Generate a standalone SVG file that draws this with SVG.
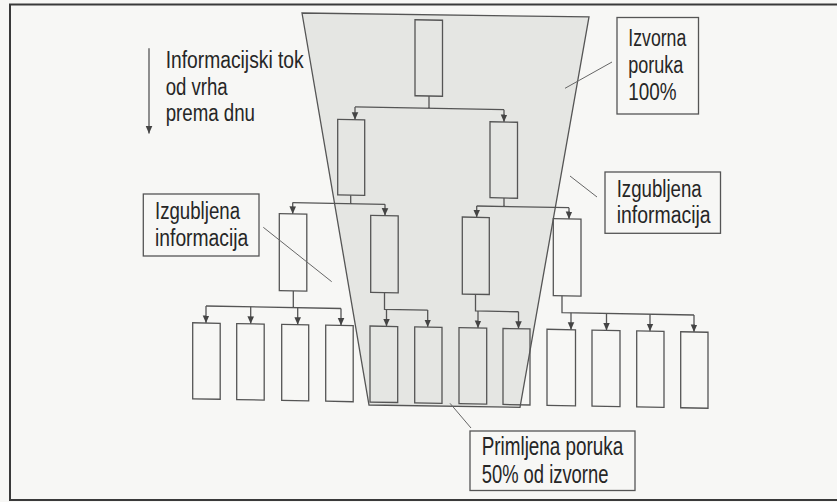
<svg xmlns="http://www.w3.org/2000/svg" width="837" height="502" viewBox="0 0 837 502">
<style>
.bx{fill:none;stroke:#555;stroke-width:1.3}
.cn{fill:none;stroke:#555;stroke-width:1.3}
.ar{fill:none;stroke:#555;stroke-width:1.3;marker-end:url(#ah)}
.ld{fill:none;stroke:#666;stroke-width:1}
.lb{fill:none;stroke:#555;stroke-width:1.3}
.tx{font-family:"Liberation Sans",Arial,sans-serif;font-size:23px;fill:#262626}
.tb{font-family:"Liberation Sans",Arial,sans-serif;font-size:25.5px;fill:#262626}
</style>
<defs>
<marker id="ah" viewBox="0 0 8 8" refX="8" refY="4" markerWidth="7.5" markerHeight="7.5" markerUnits="userSpaceOnUse" orient="auto">
<path d="M0,0.5 L8,4 L0,7.5 z" fill="#444"/>
</marker>
</defs>
<rect x="0" y="0" width="837" height="502" fill="#f7f7f5"/>
<path d="M837,4.5 H10 V500 H837" fill="none" stroke="#3a3a3a" stroke-width="2"/>

<g id="tree" transform="translate(0,-8.28) skewY(1.054)">
<polygon id="funnel" points="302,15.7 589,14.4 520,406 369,406.5" fill="#e5e6e3" stroke="#555" stroke-width="1.3"/>
<g id="connectors">
<path class="cn" d="M429,96.4 V108.7 M355,108.7 H504"/>
<path class="ar" d="M355,108.7 V121.5"/>
<path class="ar" d="M504,108.7 V121"/>
<path class="cn" d="M350.7,197 V205.5 M292.7,205.5 H385"/>
<path class="ar" d="M292.7,205.5 V216.8"/>
<path class="ar" d="M385,205.5 V216.8"/>
<path class="cn" d="M504,197 V205.5 M476.7,205.5 H569"/>
<path class="ar" d="M476.7,205.5 V216.8"/>
<path class="ar" d="M569,205.5 V216.8"/>
<path class="cn" d="M293.3,293.8 V310.5 M206,310.5 H341"/>
<path class="ar" d="M206,310.5 V327.5"/>
<path class="ar" d="M250.7,310.5 V327.5"/>
<path class="ar" d="M297.7,310.5 V327.5"/>
<path class="ar" d="M341,310.5 V327.5"/>
<path class="cn" d="M384.5,293.8 V310.5 H427.7"/>
<path class="ar" d="M386.5,310.5 V327.5"/>
<path class="ar" d="M427.7,310.5 V327.5"/>
<path class="cn" d="M475.5,293.8 V310.5 H518.5"/>
<path class="ar" d="M478,310.5 V327.5"/>
<path class="ar" d="M518.5,310.5 V327.5"/>
<path class="cn" d="M562,293.8 V310.5 H694"/>
<path class="ar" d="M571,310.5 V327.5"/>
<path class="ar" d="M606.5,310.5 V327.5"/>
<path class="ar" d="M650,310.5 V327.5"/>
<path class="ar" d="M694,310.5 V327.5"/>
</g>
<g id="n-top"><rect class="bx" x="415" y="20.4" width="27.5" height="76"/></g>
<g id="n-l1a"><rect class="bx" x="337.7" y="121.5" width="27" height="75.5"/></g>
<g id="n-l1b"><rect class="bx" x="490" y="121" width="27.5" height="76"/></g>
<g id="n-l2a"><rect class="bx" x="279.3" y="216.8" width="27.5" height="77"/></g>
<g id="n-l2b"><rect class="bx" x="370.7" y="216.8" width="27.5" height="77"/></g>
<g id="n-l2c"><rect class="bx" x="462.3" y="216.8" width="27" height="77"/></g>
<g id="n-l2d"><rect class="bx" x="553.3" y="216.8" width="27.7" height="77"/></g>
<g id="n-b1"><rect class="bx" x="192.7" y="327.5" width="27.5" height="76"/></g>
<g id="n-b2"><rect class="bx" x="236.7" y="327.5" width="27.5" height="76"/></g>
<g id="n-b3"><rect class="bx" x="281.7" y="327.5" width="27" height="76"/></g>
<g id="n-b4"><rect class="bx" x="325.7" y="327.5" width="27.5" height="76"/></g>
<g id="n-b5"><rect class="bx" x="370" y="327.5" width="27.7" height="76"/></g>
<g id="n-b6"><rect class="bx" x="414.7" y="327.5" width="27.3" height="76"/></g>
<g id="n-b7"><rect class="bx" x="459" y="327.5" width="27.7" height="76"/></g>
<g id="n-b8"><rect class="bx" x="503" y="327.5" width="27" height="76"/></g>
<g id="n-b9"><rect class="bx" x="547" y="327.5" width="28.5" height="76"/></g>
<g id="n-b10"><rect class="bx" x="592" y="327.5" width="28" height="76"/></g>
<g id="n-b11"><rect class="bx" x="636.7" y="327.5" width="27.3" height="76"/></g>
<g id="n-b12"><rect class="bx" x="680.7" y="327.5" width="27.3" height="76"/></g>
</g>

<g id="flow-note">
<path class="ar" d="M149,48.3 V133.5"/>
<text class="tx" x="165.7" y="68.3" textLength="138" lengthAdjust="spacingAndGlyphs">Informacijski tok</text>
<text class="tx" x="165.7" y="95" textLength="62" lengthAdjust="spacingAndGlyphs">od vrha</text>
<text class="tx" x="165.7" y="120.7" textLength="89.3" lengthAdjust="spacingAndGlyphs">prema dnu</text>
</g>

<g id="label-source">
<path class="ld" d="M565,88.3 L612,62"/>
<rect class="lb" x="617" y="17.5" width="81.5" height="96.5"/>
<text class="tx" x="628.3" y="46.3" textLength="58" lengthAdjust="spacingAndGlyphs">Izvorna</text>
<text class="tx" x="628.3" y="73" textLength="55" lengthAdjust="spacingAndGlyphs">poruka</text>
<text class="tx" x="628.3" y="100.3" textLength="48.3" lengthAdjust="spacingAndGlyphs">100%</text>
</g>

<g id="label-lost-right">
<path class="ld" d="M570,176 L597,197"/>
<rect class="lb" x="605" y="172" width="115.5" height="61.3"/>
<text class="tx" x="616.7" y="196.7" textLength="85" lengthAdjust="spacingAndGlyphs">Izgubljena</text>
<text class="tx" x="616.7" y="223.3" textLength="94" lengthAdjust="spacingAndGlyphs">informacija</text>
</g>

<g id="label-lost-left">
<path class="ld" d="M263.3,227.3 L331.7,281.7"/>
<rect class="lb" x="143.3" y="194" width="115.7" height="62"/>
<text class="tx" x="155" y="219.3" textLength="85" lengthAdjust="spacingAndGlyphs">Izgubljena</text>
<text class="tx" x="155" y="246" textLength="93.3" lengthAdjust="spacingAndGlyphs">informacija</text>
</g>

<g id="label-received">
<path class="ld" d="M450,403.3 L471,428"/>
<rect class="lb" x="470" y="431" width="165" height="59.5"/>
<text class="tb" x="481.7" y="455" textLength="141.6" lengthAdjust="spacingAndGlyphs">Primljena poruka</text>
<text class="tb" x="481.7" y="483.3" textLength="126.7" lengthAdjust="spacingAndGlyphs">50% od izvorne</text>
</g>
</svg>
